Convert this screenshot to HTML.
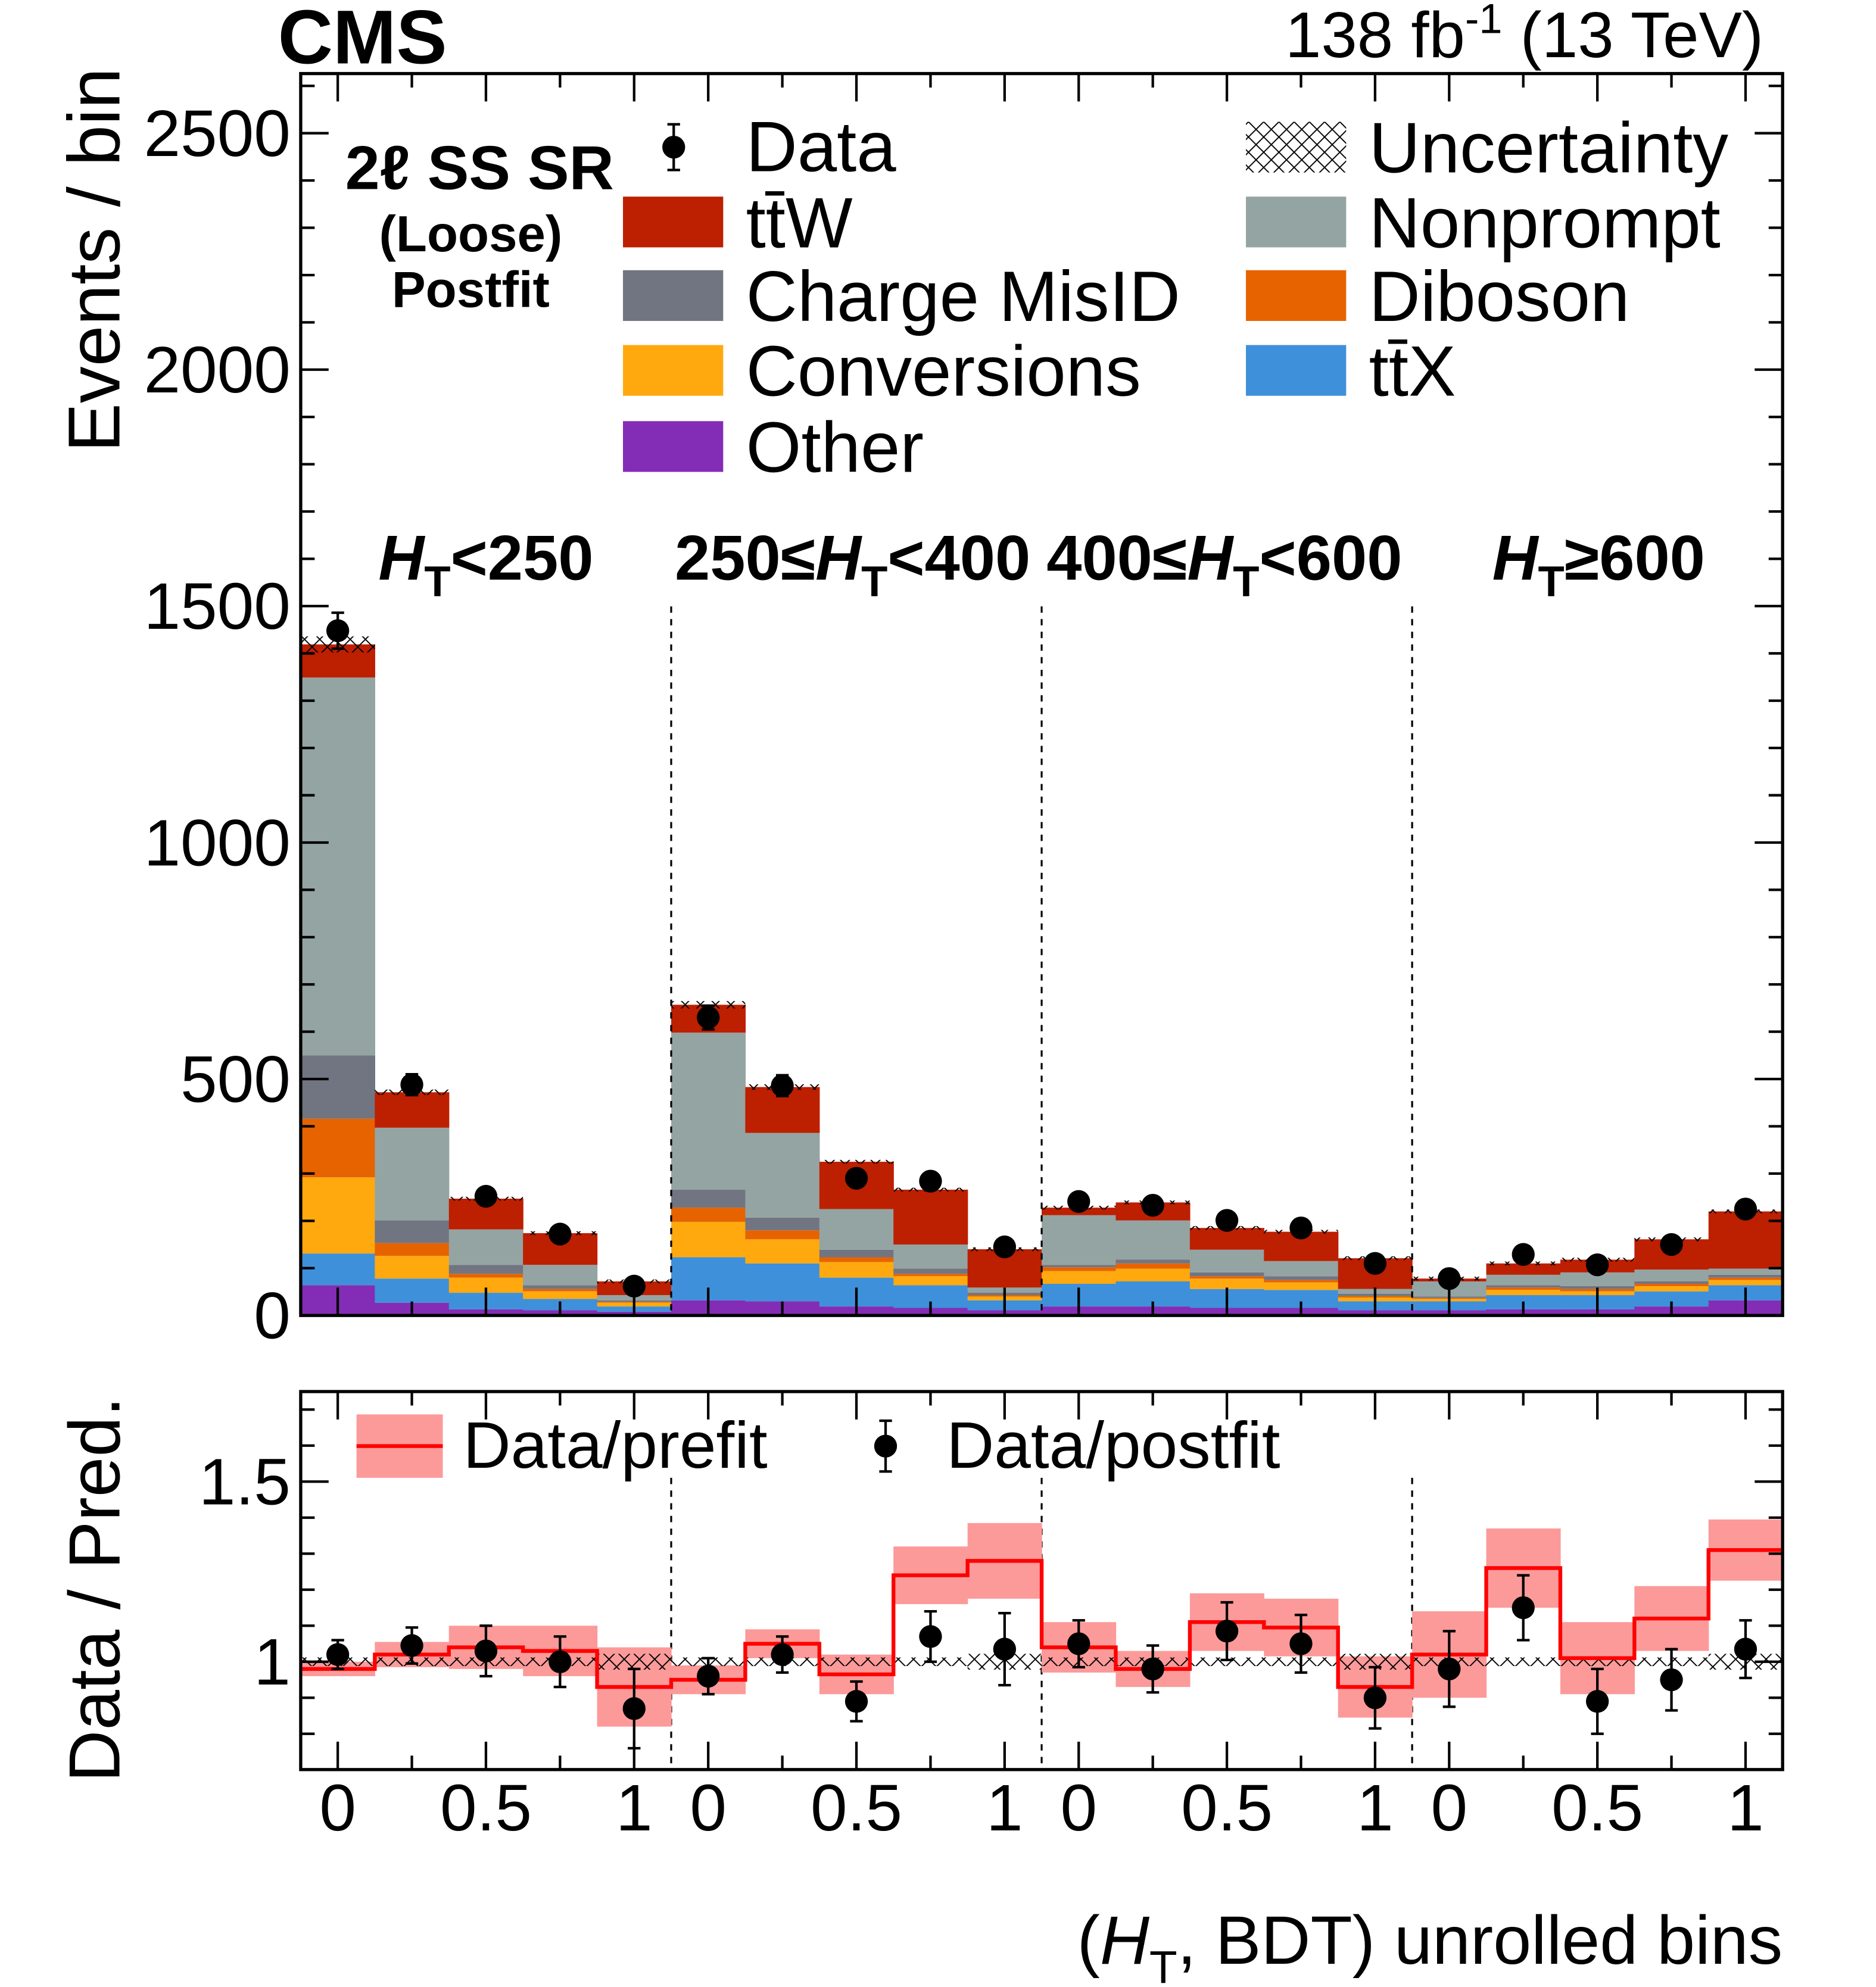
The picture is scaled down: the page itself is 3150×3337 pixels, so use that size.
<!DOCTYPE html>
<html><head><meta charset="utf-8"><style>
html,body{margin:0;padding:0;background:#fff}
svg{display:block}
text{font-family:"Liberation Sans",sans-serif;fill:#000}
</style></head><body>
<svg id="chart" width="3150" height="3337" viewBox="0 0 1478.6 1566.4" xmlns="http://www.w3.org/2000/svg">
<defs>
<pattern id="hatch" patternUnits="userSpaceOnUse" width="12" height="12">
<path d="M0,0 L12,12 M12,0 L0,12" stroke="#000" stroke-width="0.9" fill="none"/>
</pattern>
<clipPath id="mainclip"><rect x="237" y="58" width="1168" height="979"/></clipPath>
<clipPath id="ratclip"><rect x="237" y="1097" width="1168" height="298"/></clipPath>
</defs>
<g id="main"></g>
<g id="ratio"></g>
<g id="labels">
<text x="219" y="50" font-size="60" font-weight="bold">CMS</text>
<text x="1390" y="45" font-size="51" text-anchor="end">138 fb<tspan font-size="33" dy="-19">-1</tspan><tspan dy="19"> (13 TeV)</tspan></text>
<text transform="translate(94,205) rotate(-90)" font-size="58" text-anchor="middle">Events / bin</text>
<text transform="translate(94,1253) rotate(-90)" font-size="57" text-anchor="middle">Data / Pred.</text>
<text x="1405" y="1548" font-size="54" text-anchor="end">(<tspan font-style="italic">H</tspan><tspan font-size="36" dy="15">T</tspan><tspan dy="-15">, BDT) unrolled bins</tspan></text>
<text x="378" y="149" font-size="49" font-weight="bold" text-anchor="middle">2ℓ SS SR</text>
<text x="371" y="198" font-size="40" font-weight="bold" text-anchor="middle">(Loose)</text>
<text x="371" y="242" font-size="40" font-weight="bold" text-anchor="middle">Postfit</text>
<text x="383" y="457" font-size="50" font-weight="bold" text-anchor="middle"><tspan font-style="italic">H</tspan><tspan font-size="34" dy="13">T</tspan><tspan dy="-13">&lt;250</tspan></text>
<text x="672" y="457" font-size="50" font-weight="bold" text-anchor="middle">250≤<tspan font-style="italic">H</tspan><tspan font-size="34" dy="13">T</tspan><tspan dy="-13">&lt;400</tspan></text>
<text x="965" y="457" font-size="50" font-weight="bold" text-anchor="middle">400≤<tspan font-style="italic">H</tspan><tspan font-size="34" dy="13">T</tspan><tspan dy="-13">&lt;600</tspan></text>
<text x="1260" y="457" font-size="50" font-weight="bold" text-anchor="middle"><tspan font-style="italic">H</tspan><tspan font-size="34" dy="13">T</tspan><tspan dy="-13">≥600</tspan></text>
</g>
<g id="legend"></g>
</svg>
<script>
// ---- data ----
const processes = ["Other","ttX","Conversions","Diboson","Charge MisID","Nonprompt","ttW"];
const other       = [64,27,13,11,8, 32,30,19,16,11, 19,19,16,16,11, 11,13,13,19,32];
const ttX         = [67,51,35,24,11, 91,80,61,48,21, 48,53,40,38,19, 19,30,30,32,32];
const conversions = [161,48,32,16,8, 75,51,33,19,8, 27,27,22,16,8, 5,11,8,11,11];
const diboson     = [124,27,8,5,2, 30,19,10,5,3, 8,11,5,5,3, 2,5,5,5,5];
const chargeMisID = [134,48,19,8,3, 38,27,16,11,5, 5,8,8,8,5, 3,5,6,5,6];
const nonprompt   = [799,196,75,43,11, 332,179,86,51,11, 105,83,48,32,10, 32,22,29,25,13];
const ttW         = [70,75,65,67,29, 59,97,100,116,81, 16,38,46,62,65, 6,24,27,64,121];
const dataCounts  = [1448,488,252,172,62, 630,486,290,284,145, 241,233,201,185,110, 78,129,107,150,225];
const prefitRatio = [0.98,1.02,1.04,1.03,0.93, 0.95,1.05,0.965,1.24,1.28, 1.04,0.98,1.11,1.095,0.93, 1.02,1.26,1.01,1.12,1.31];
const prefitUnc   = [0.02,0.035,0.06,0.07,0.11, 0.04,0.04,0.055,0.08,0.105, 0.07,0.05,0.08,0.08,0.085, 0.12,0.11,0.1,0.09,0.085];
const postfitRatio= [1.02,1.045,1.03,1.0,0.87, 0.96,1.02,0.89,1.07,1.035, 1.05,0.98,1.085,1.05,0.90, 0.98,1.15,0.89,0.95,1.035];
const postfitErr  = [0.04,0.05,0.07,0.07,0.11, 0.05,0.05,0.055,0.07,0.1, 0.065,0.065,0.08,0.08,0.085, 0.105,0.09,0.09,0.085,0.08];
const mainTicks   = [0,500,1000,1500,2000,2500];
const ratioTicks  = [1.5,1];
const xTickLabels = ["0","0.5","1"];
const colors = {"Other":"#832db6","ttX":"#3f90da","Conversions":"#ffa90e","Diboson":"#e76300","Charge MisID":"#717581","Nonprompt":"#94a4a2","ttW":"#bd1f01"};
const series = [other,ttX,conversions,diboson,chargeMisID,nonprompt,ttW];

const NS="http://www.w3.org/2000/svg";
const X0=237,X1=1405,NB=20,BW=(X1-X0)/NB;
const yM=v=>1037-v*(932/2500);
const yR=v=>1310-(v-1)*284;
const xb=i=>X0+i*BW;
function mk(tag,attrs,parent){const e=document.createElementNS(NS,tag);for(const k in attrs)e.setAttribute(k,attrs[k]);parent.appendChild(e);return e;}
const main=document.getElementById('main'), ratio=document.getElementById('ratio'), leg=document.getElementById('legend');
const mg=mk('g',{'clip-path':'url(#mainclip)'},main);
for(let i=0;i<NB;i++){
  let cum=0;
  series.forEach((s,k)=>{
    const r=mk('rect',{x:xb(i),y:yM(cum+s[i]),width:BW+0.3,height:yM(cum)-yM(cum+s[i]),fill:colors[processes[k]]},mg);
    
    
    cum+=s[i];
  });
  const tot=cum, u=Math.max(4,tot*0.012);
  const h=mk('rect',{x:xb(i),y:yM(tot+u),width:BW,height:yM(tot-u)-yM(tot+u),fill:'url(#hatch)'},mg);
  
  
  const e=Math.sqrt(dataCounts[i]), cx=xb(i)+BW/2;
  mk('line',{x1:cx,x2:cx,y1:yM(dataCounts[i]+e),y2:yM(dataCounts[i]-e),stroke:'#000','stroke-width':2},mg);
  mk('line',{x1:cx-5,x2:cx+5,y1:yM(dataCounts[i]+e),y2:yM(dataCounts[i]+e),stroke:'#000','stroke-width':2},mg);
  mk('line',{x1:cx-5,x2:cx+5,y1:yM(dataCounts[i]-e),y2:yM(dataCounts[i]-e),stroke:'#000','stroke-width':2},mg);
  const d=mk('circle',{cx:cx,cy:yM(dataCounts[i]),r:9,fill:'#000'},mg);
  
  
}
[5,10,15].forEach(j=>{
  mk('line',{x1:xb(j),x2:xb(j),y1:478,y2:1037,stroke:'#000','stroke-width':1.5,'stroke-dasharray':'5,5'},main);
  mk('line',{x1:xb(j),x2:xb(j),y1:1165,y2:1395,stroke:'#000','stroke-width':1.5,'stroke-dasharray':'5,5'},ratio);
});
mk('rect',{x:X0,y:58,width:X1-X0,height:979,fill:'none',stroke:'#000','stroke-width':2.5},main);
for(let v=0;v<=2600;v+=100){
  const y=yM(v); if(y<58)break;
  const L=(v%500===0)?22:11;
  mk('line',{x1:X0,x2:X0+L,y1:y,y2:y,stroke:'#000','stroke-width':2},main);
  mk('line',{x1:X1,x2:X1-L,y1:y,y2:y,stroke:'#000','stroke-width':2},main);
}
mainTicks.forEach(v=>{const t=mk('text',{x:229,y:yM(v)+18,'font-size':52,'text-anchor':'end'},main);t.textContent=v;
 
 });
const rg=mk('g',{'clip-path':'url(#ratclip)'},ratio);
for(let i=0;i<NB;i++){
  mk('rect',{x:xb(i),y:yR(prefitRatio[i]+prefitUnc[i]),width:BW+0.3,height:yR(prefitRatio[i]-prefitUnc[i])-yR(prefitRatio[i]+prefitUnc[i]),fill:'#fc9a9a'},rg);
}
for(let i=0;i<NB;i++){
  const u=0.012+0.01*(i%5===4?1:0);
  mk('rect',{x:xb(i),y:yR(1+u),width:BW,height:yR(1-u)-yR(1+u),fill:'url(#hatch)'},rg);
}
let p='M'+X0+','+yR(prefitRatio[0]);
for(let i=0;i<NB;i++){p+=' H'+xb(i+1); if(i<NB-1)p+=' V'+yR(prefitRatio[i+1]);}
const pl=mk('path',{d:p,fill:'none',stroke:'#f00','stroke-width':3},rg);


for(let i=0;i<NB;i++){
  const cx=xb(i)+BW/2,v=postfitRatio[i],e=postfitErr[i];
  mk('line',{x1:cx,x2:cx,y1:yR(v+e),y2:yR(v-e),stroke:'#000','stroke-width':2},rg);
  mk('line',{x1:cx-5,x2:cx+5,y1:yR(v+e),y2:yR(v+e),stroke:'#000','stroke-width':2},rg);
  mk('line',{x1:cx-5,x2:cx+5,y1:yR(v-e),y2:yR(v-e),stroke:'#000','stroke-width':2},rg);
  const c=mk('circle',{cx:cx,cy:yR(v),r:9,fill:'#000'},rg);
  
  
}
mk('rect',{x:X0,y:1097,width:X1-X0,height:298,fill:'none',stroke:'#000','stroke-width':2.5},ratio);
for(let v=0.7;v<=1.75;v+=0.1){
  const vv=Math.round(v*10)/10,y=yR(vv); if(y<1097||y>1395)continue;
  const L=(Math.abs(vv-1)<1e-6||Math.abs(vv-1.5)<1e-6)?22:11;
  mk('line',{x1:X0,x2:X0+L,y1:y,y2:y,stroke:'#000','stroke-width':2},ratio);
  mk('line',{x1:X1,x2:X1-L,y1:y,y2:y,stroke:'#000','stroke-width':2},ratio);
}
ratioTicks.forEach(v=>{const t=mk('text',{x:229,y:yR(v)+18,'font-size':52,'text-anchor':'end'},ratio);t.textContent=v;
 
 });
for(let i=0;i<NB;i++){
  const cx=xb(i)+BW/2, major=(i%5)%2===0, L=major?22:11;
  mk('line',{x1:cx,x2:cx,y1:1037,y2:1037-L,stroke:'#000','stroke-width':2},main);
  mk('line',{x1:cx,x2:cx,y1:58,y2:58+L,stroke:'#000','stroke-width':2},main);
  mk('line',{x1:cx,x2:cx,y1:1395,y2:1395-L,stroke:'#000','stroke-width':2},ratio);
  mk('line',{x1:cx,x2:cx,y1:1097,y2:1097+L,stroke:'#000','stroke-width':2},ratio);
  if(major){const t=mk('text',{x:cx,y:1443,'font-size':52,'text-anchor':'middle'},ratio);t.textContent=xTickLabels[(i%5)/2];
   
   }
}
function legRect(x,y,fill,label,name){
  const g=mk('g',{},leg);
  
  
  mk('rect',{x:x,y:y-20,width:79,height:40,fill:fill},g);
  const t=mk('text',{x:x+97,y:y+20,'font-size':56},g);t.innerHTML=label;
}
const lg=mk('g',{},leg);


mk('line',{x1:531,x2:531,y1:98,y2:134,stroke:'#000','stroke-width':2},lg);
mk('line',{x1:526,x2:536,y1:98,y2:98,stroke:'#000','stroke-width':2},lg);
mk('line',{x1:526,x2:536,y1:134,y2:134,stroke:'#000','stroke-width':2},lg);
mk('circle',{cx:531,cy:116,r:9,fill:'#000'},lg);
const dt=mk('text',{x:588,y:135,'font-size':56},lg);dt.textContent='Data';
legRect(491,175,colors.ttW,'tt̄W','ttw');
legRect(491,233,colors['Charge MisID'],'Charge MisID','charge-misid');
legRect(491,292,colors.Conversions,'Conversions','conversions');
legRect(491,352,colors.Other,'Other','other');
legRect(982,116,'url(#hatch)','Uncertainty','uncertainty');
legRect(982,175,colors.Nonprompt,'Nonprompt','nonprompt');
legRect(982,233,colors.Diboson,'Diboson','diboson');
legRect(982,292,colors.ttX,'tt̄X','ttx');
const rl=mk('g',{},leg);


mk('rect',{x:281,y:1115,width:68,height:50,fill:'#fc9a9a'},rl);
mk('line',{x1:281,x2:349,y1:1140,y2:1140,stroke:'#f00','stroke-width':3},rl);
const t1=mk('text',{x:365,y:1157,'font-size':52},rl);t1.textContent='Data/prefit';
const rp=mk('g',{},leg);


mk('line',{x1:698,x2:698,y1:1120,y2:1160,stroke:'#000','stroke-width':2},rp);
mk('line',{x1:693,x2:703,y1:1120,y2:1120,stroke:'#000','stroke-width':2},rp);
mk('line',{x1:693,x2:703,y1:1160,y2:1160,stroke:'#000','stroke-width':2},rp);
mk('circle',{cx:698,cy:1140,r:9,fill:'#000'},rp);
const t2=mk('text',{x:746,y:1157,'font-size':52},rp);t2.textContent='Data/postfit';
</script>
</body></html>
